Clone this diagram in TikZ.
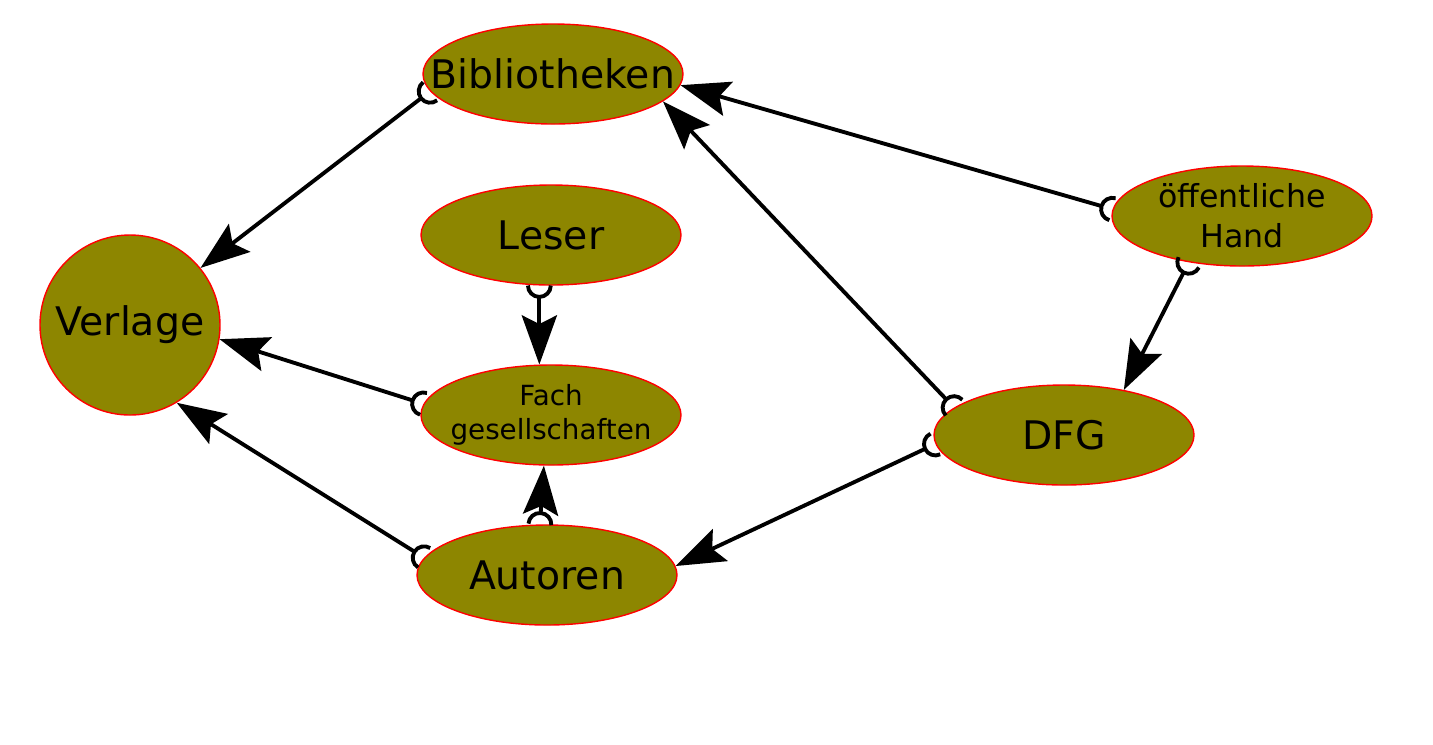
\documentclass[tikz,border=0pt]{standalone}
\usepackage{fontspec}
\setmainfont{DejaVu Sans}
\usetikzlibrary{arrows.meta, shapes.geometric}

\begin{document}
\begin{tikzpicture}[
  akteur/.style={draw=red, line width=0.4pt, fill=olive, ellipse, minimum width=2.6cm, minimum height=1cm, inner xsep=-0.35cm, inner ysep=0pt, align=center, font=\fontsize{11.2}{13}\selectfont},
  fluss/.style={line width=1.1pt, {Arc Barb[reversed, length=3.8pt, width=7.6pt]}-{Stealth[length=14pt, width=10pt, inset=2.5pt]}}]
\useasboundingbox (0,0) rectangle (14.33,-7.44);
\node[akteur] (bib) at (5.53,-0.74) {Bibliotheken};
\node[akteur] (leser) at (5.51,-2.35) {Leser};
\node[akteur, circle, minimum size=1.8cm] (verlage) at (1.30,-3.25) {Verlage};
\node[akteur, font=\fontsize{7.9}{9.7}\selectfont] (fach) at (5.51,-4.15) {Fach\\ gesellschaften};
\node[akteur] (autoren) at (5.47,-5.75) {Autoren};
\node[akteur, font=\fontsize{9}{11.4}\selectfont] (hand) at (12.42,-2.16) {öffentliche\\ Hand};
\node[akteur] (dfg) at (10.64,-4.35) {DFG};
\draw[fluss] (bib.188) -- (verlage.39);
\draw[fluss] (leser.257) -- (fach.103);
\draw[fluss] (fach.175) -- (verlage.351);
\draw[fluss] (autoren.172) -- (verlage.301);
\draw[fluss] (autoren.98) -- (fach.262);
\draw[fluss] (dfg.184) -- (autoren.4);
\draw[fluss] (dfg.166) -- (bib.346);
\draw[fluss] (hand.177) -- (bib.355);
\draw[fluss] (hand.221) -- (dfg.37);
\end{tikzpicture}
\end{document}
